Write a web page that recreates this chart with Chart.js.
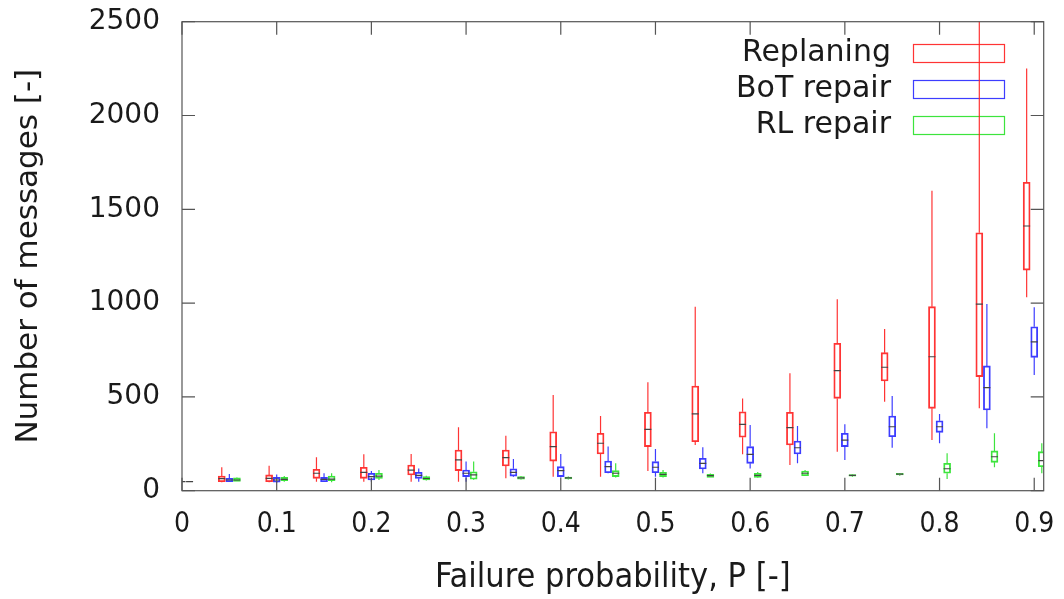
<!DOCTYPE html>
<html>
<head>
<meta charset="utf-8">
<script src="https://cdn.jsdelivr.net/npm/chart.js@4.4.1/dist/chart.umd.min.js"></script>
<style>
  html, body { margin: 0; padding: 0; background: #fff; }
  #wrap { width: 1064px; height: 599px; }
</style>
</head>
<body>
<div id="wrap"><canvas id="boxChart" width="1064" height="599"></canvas></div>
<script>
// failure probability groups
const probs = [0, 0.05, 0.1, 0.15, 0.2, 0.25, 0.3, 0.35, 0.4, 0.45, 0.5, 0.55, 0.6, 0.65, 0.7, 0.75, 0.8, 0.85, 0.9];

// each entry: [min, q1, median, q3, max]
const replaning = [
  [46, 47, 48, 49, 50], [45, 48, 64, 78, 125], [45, 48, 66, 84, 133], [48, 66, 93, 114, 178],
  [48, 66, 98, 125, 194], [48, 84, 110, 137, 196], [48, 107, 164, 217, 338], [66, 132, 176, 217, 293],
  [75, 158, 235, 314, 510], [75, 196, 253, 306, 398], [105, 235, 327, 418, 578], [244, 261, 409, 558, 981],
  [194, 285, 354, 421, 492], [137, 244, 336, 418, 626], [208, 492, 640, 786, 1020], [474, 585, 658, 736, 862],
  [270, 439, 714, 981, 1599], [439, 608, 995, 1375, 3100], [1031, 1176, 1411, 1644, 2251]
];
const botRepair = [
  [48, 48, 48, 48, 48], [46, 48, 57, 66, 89], [41, 45, 57, 71, 87], [48, 48, 60, 71, 93],
  [48, 57, 75, 93, 105], [48, 66, 82, 98, 119], [48, 75, 93, 110, 155], [75, 78, 98, 117, 169],
  [71, 75, 107, 128, 196], [93, 96, 128, 158, 235], [75, 96, 125, 155, 222], [93, 116, 146, 173, 231],
  [119, 146, 194, 235, 350], [146, 196, 229, 265, 345], [164, 235, 270, 306, 354], [229, 288, 341, 398, 505],
  [253, 311, 341, 373, 409], [333, 430, 549, 665, 995], [617, 711, 793, 874, 978]
];
const rlRepair = [
  [48, 48, 48, 48, 48], [50, 50, 57, 68, 70], [48, 53, 60, 71, 78], [45, 53, 62, 78, 93],
  [57, 66, 78, 93, 110], [55, 57, 65, 75, 80], [57, 61, 84, 101, 155], [60, 62, 68, 75, 78],
  [60, 63, 68, 72, 76], [71, 75, 93, 107, 146], [70, 75, 87, 98, 110], [70, 71, 80, 87, 92],
  [68, 71, 82, 93, 100], [78, 80, 93, 105, 110], [75, 78, 82, 86, 89], [80, 84, 88, 92, 95],
  [62, 93, 117, 146, 199], [125, 151, 181, 212, 306], [93, 128, 160, 208, 253]
];

const seriesNames = ["Replaning", "BoT repair", "RL repair"];
const seriesOffsets = [-0.008, 0, 0.008];
const xTicks = [0, 0.1, 0.2, 0.3, 0.4, 0.5, 0.6, 0.7, 0.8, 0.9];
const xTickLabels = ["0", "0.1", "0.2", "0.3", "0.4", "0.5", "0.6", "0.7", "0.8", "0.9"];
const yTicks = [0, 500, 1000, 1500, 2000, 2500];
const yTickLabels = ["0", "500", "1000", "1500", "2000", "2500"];

const colors = ["rgba(255,30,30,0.9)", "rgba(40,40,255,0.9)", "rgba(40,225,40,0.9)"];
const allStats = [replaning, botRepair, rlRepair];
const condensed = "'DejaVu Sans Condensed', 'Liberation Sans Narrow', 'DejaVu Sans'";

function makeDataset(i) {
  return {
    label: seriesNames[i],
    data: probs.map((p, j) => ({ x: p + seriesOffsets[i], y: [allStats[i][j][1], allStats[i][j][3]] })),
    stats: allStats[i],
    backgroundColor: "rgba(0,0,0,0)",
    borderColor: colors[i],
    borderWidth: 1.2,
    borderSkipped: false,
    barThickness: 7,
    grouped: false
  };
}

// whiskers + medians, drawn from the same stats through the scales
const boxExtras = {
  id: "boxExtras",
  afterDatasetsDraw(chart) {
    const ctx = chart.ctx, xs = chart.scales.x, ys = chart.scales.y, a = chart.chartArea;
    ctx.save();
    ctx.beginPath();
    ctx.rect(a.left, a.top, a.right - a.left, a.bottom - a.top);
    ctx.clip();
    chart.data.datasets.forEach((ds, di) => {
      const meta = chart.getDatasetMeta(di);
      ds.stats.forEach((s, i) => {
        const cx = xs.getPixelForValue(ds.data[i].x);
        const half = meta.data[i].width / 2;
        ctx.strokeStyle = ds.borderColor;
        ctx.lineWidth = 1.2;
        ctx.beginPath();
        ctx.moveTo(cx, ys.getPixelForValue(s[0]));
        ctx.lineTo(cx, ys.getPixelForValue(s[1]));
        ctx.moveTo(cx, ys.getPixelForValue(s[3]));
        ctx.lineTo(cx, ys.getPixelForValue(s[4]));
        ctx.stroke();
        ctx.strokeStyle = "#444";
        ctx.beginPath();
        const my = ys.getPixelForValue(s[2]);
        ctx.moveTo(cx - half, my);
        ctx.lineTo(cx + half, my);
        ctx.stroke();
      });
    });
    ctx.restore();
  },
  beforeDatasetsDraw(chart) {
    // legend: text on the left, sample box on the right
    const ctx = chart.ctx;
    ctx.save();
    ctx.font = "30px 'DejaVu Sans'";
    ctx.fillStyle = "#1a1a1a";
    ctx.textAlign = "right";
    ctx.textBaseline = "middle";
    seriesNames.forEach((name, i) => {
      const y = 53 + i * 36;
      ctx.fillText(name, 891, y);
      ctx.strokeStyle = colors[i];
      ctx.lineWidth = 1.2;
      ctx.strokeRect(913.5, y - 8.5, 91, 18);
    });
    ctx.restore();
  },
  afterDraw(chart) {
    // gnuplot style frame with inward mirrored ticks
    const ctx = chart.ctx, xs = chart.scales.x, ys = chart.scales.y, a = chart.chartArea;
    const tl = 13;
    ctx.save();
    ctx.strokeStyle = "#555";
    ctx.lineWidth = 1.2;
    ctx.strokeRect(a.left, a.top, a.right - a.left, a.bottom - a.top);
    ctx.beginPath();
    yTicks.forEach(v => {
      const y = ys.getPixelForValue(v);
      ctx.moveTo(a.left, y); ctx.lineTo(a.left + tl, y);
      ctx.moveTo(a.right, y); ctx.lineTo(a.right - tl, y);
    });
    xTicks.forEach(v => {
      const x = xs.getPixelForValue(v);
      ctx.moveTo(x, a.bottom); ctx.lineTo(x, a.bottom - tl);
      ctx.moveTo(x, a.top); ctx.lineTo(x, a.top + tl);
    });
    ctx.stroke();
    ctx.restore();
  }
};

const ctx = document.getElementById("boxChart").getContext("2d");
const chart = new Chart(ctx, {
  type: "bar",
  data: { datasets: [0, 1, 2].map(makeDataset) },
  options: {
    responsive: false,
    animation: false,
    devicePixelRatio: 1,
    layout: { padding: { left: 0, top: 21.7, right: 20.3, bottom: 0 } },
    plugins: { legend: { display: false }, tooltip: { enabled: false } },
    scales: {
      x: {
        type: "linear",
        min: 0,
        max: 0.91,
        offset: false,
        grid: { display: false, drawTicks: false },
        border: { display: false },
        afterBuildTicks: s => { s.ticks = xTicks.map(v => ({ value: v })); },
        afterFit: s => { s.height = 108.3; s.paddingLeft = 0; s.paddingRight = 0; },
        ticks: {
          padding: 17,
          color: "#1a1a1a",
          font: { family: condensed, size: 28 },
          callback: (v, i) => xTickLabels[i]
        },
        title: {
          display: true,
          text: "Failure probability, P [-]",
          color: "#1a1a1a",
          font: { family: condensed, size: 34 },
          padding: { top: 0, bottom: 0 }
        }
      },
      y: {
        min: 0,
        max: 2500,
        grid: { display: false, drawTicks: false },
        border: { display: false },
        afterBuildTicks: s => { s.ticks = yTicks.map(v => ({ value: v })); },
        afterFit: s => { s.width = 182; s.paddingTop = 0; s.paddingBottom = 0; },
        ticks: {
          padding: 22,
          color: "#1a1a1a",
          font: { family: "'DejaVu Sans'", size: 28 },
          callback: (v, i) => yTickLabels[i]
        },
        title: {
          display: true,
          text: "Number of messages [-]",
          color: "#1a1a1a",
          font: { family: "'DejaVu Sans'", size: 31 },
          padding: { top: 10, bottom: 0 }
        }
      }
    }
  },
  plugins: [boxExtras]
});
</script>
</body>
</html>
